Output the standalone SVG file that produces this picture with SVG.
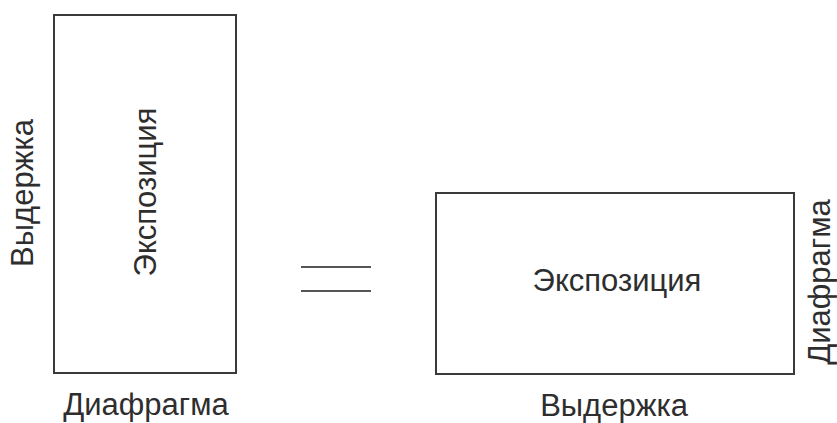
<svg xmlns="http://www.w3.org/2000/svg" width="837" height="423" viewBox="0 0 837 423">
  <style>
    .box { fill: #ffffff; stroke: #3a3a3a; stroke-width: 2; }
    .lbl { font-family: "Liberation Sans", Arial, sans-serif; font-size: 31px; fill: #2e2e2e; text-anchor: middle; }
    .eq { stroke: #555555; stroke-width: 2; }
  </style>
  <rect width="837" height="423" fill="#ffffff"/>

  <!-- Tall exposure block: shutter on the long side, aperture on the short side -->
  <g id="exposure-tall">
    <rect class="box" x="54" y="15" width="182" height="358"/>
    <text class="lbl" transform="translate(156,192) rotate(-90)">Экспозиция</text>
  </g>
  <g id="label-shutter-left">
    <text class="lbl" transform="translate(33,193) rotate(-90)">Выдержка</text>
  </g>
  <g id="label-aperture-bottom">
    <text class="lbl" x="146" y="415">Диафрагма</text>
  </g>

  <!-- Equals sign between the two blocks -->
  <g id="connectors">
    <line class="eq" x1="301" y1="267" x2="371" y2="267"/>
    <line class="eq" x1="301" y1="291" x2="371" y2="291"/>
  </g>

  <!-- Wide exposure block: same area, sides swapped -->
  <g id="exposure-wide">
    <rect class="box" x="436" y="193" width="358" height="181"/>
    <text class="lbl" x="617" y="291">Экспозиция</text>
  </g>
  <g id="label-aperture-right">
    <text class="lbl" transform="translate(830,282) rotate(-90)">Диафрагма</text>
  </g>
  <g id="label-shutter-bottom">
    <text class="lbl" x="614" y="416">Выдержка</text>
  </g>
</svg>
